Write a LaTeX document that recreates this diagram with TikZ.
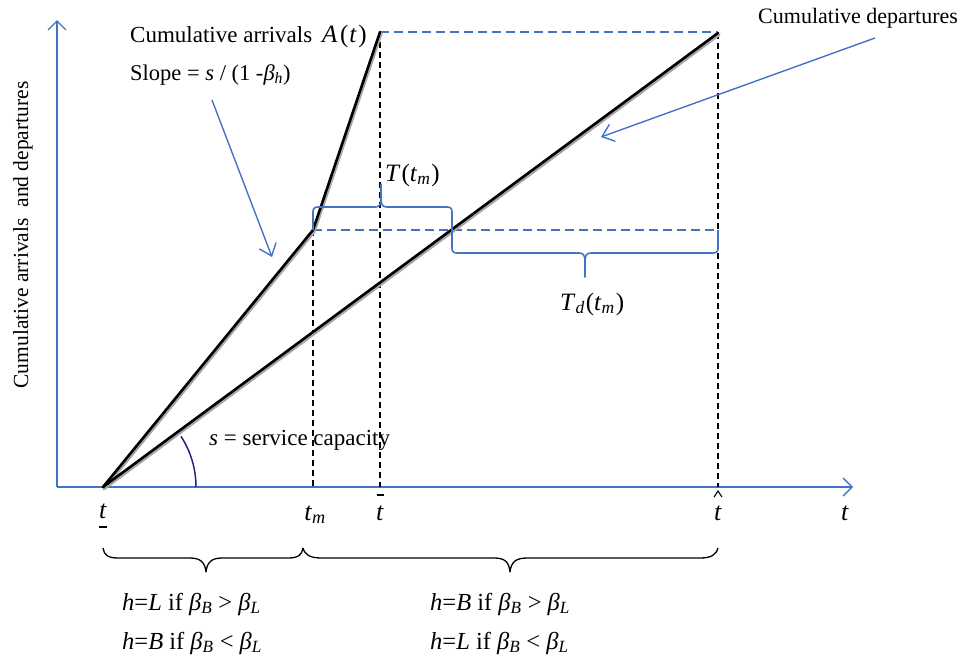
\documentclass[tikz,border=0pt]{standalone}
\usepackage{fontspec}
\setmainfont{Liberation Serif}
\usetikzlibrary{arrows.meta}
\definecolor{pblue}{RGB}{68,114,196}
\definecolor{arcblue}{RGB}{35,35,140}
\newcommand\sbs[1]{\textsubscript{\textit{#1}}}
\begin{document}
\begin{tikzpicture}[x=1pt,y=-1pt,
  lbl/.style={inner sep=0pt, font=\fontsize{22}{26}\selectfont},
  mlbl/.style={inner sep=0pt, font=\fontsize{25}{30}\selectfont},
  blbl/.style={inner sep=0pt, anchor=base west, font=\fontsize{24.5}{29}\selectfont},
  tlbl/.style={inner sep=0pt, anchor=base, font=\fontsize{26}{30}\selectfont},
  axisline/.style={pblue, line width=1.4pt, -{Straight Barb[length=9pt,width=18pt,line width=1.4pt]}},
  curve/.style={line width=2.6pt, line cap=round},
  shadowline/.style={line width=3.4pt, black!35, line cap=round},
  guide/.style={black, line width=1.4pt, dash pattern=on 6pt off 4pt},
  bguide/.style={pblue, line width=1.4pt, dash pattern=on 9pt off 5pt},
  bbrace/.style={pblue, line width=1.6pt, line join=round},
  kbrace/.style={black, line width=1.3pt, line join=round},
  accentbar/.style={black, line width=1.2pt},
  pointer/.style={pblue, line width=1.4pt, -{Straight Barb[length=11pt,width=18pt,line width=1.4pt]}}
]
\useasboundingbox (0,0) rectangle (974,659);

% key points
\coordinate (Yorig) at (57,487);
\coordinate (Ytip) at (57,20);
\coordinate (Xtip) at (853,487);
\coordinate (O) at (103,487);
\coordinate (K) at (313,230);
\coordinate (Atop) at (380,32);
\coordinate (Dtop) at (718,33);
\coordinate (Kb) at (313,487);
\coordinate (Ab) at (380,487);
\coordinate (Db) at (718,487);
\coordinate (C) at (452,230);
\coordinate (R) at (718,230);
\coordinate (Dq) at (718,32);

% axes
\draw[axisline] (Yorig) -- (Ytip);
\draw[axisline] (Yorig) -- (Xtip);

% guides
\draw[guide] (K) -- (Kb);
\draw[guide] (Atop) -- (Ab);
\draw[guide] (Dtop) -- (Db);
\draw[bguide] (Atop) -- (Dq);
\draw[bguide] (K) -- (R);

% curves
\draw[shadowline] ([shift={(1,1.5)}]O) -- ([shift={(1,1.5)}]Dtop);
\draw[shadowline] ([shift={(1,1.5)}]O) -- ([shift={(1,1.5)}]K) -- ([shift={(1,1.5)}]Atop);
\draw[curve] (O) -- (Dtop);
\draw[curve, line join=round] (O) -- (K) -- (Atop);

% service capacity arc
\draw[arcblue, line width=1.5pt] (196,487) arc[start angle=0, end angle=33, radius=93pt];

% blue braces
\draw[bbrace] (K) -- (313,212) .. controls (313,208.5) and (314.5,207) .. (318,207)
  -- (375,207) .. controls (379,207) and (381,205) .. (381,199) -- (381,184)
  -- (381,199) .. controls (381,205) and (383,207) .. (387,207)
  -- (447,207) .. controls (450.5,207) and (452,208.5) .. (452,212) -- (C);
\draw[bbrace] (C) -- (452,248) .. controls (452,251.5) and (453.5,253) .. (457,253)
  -- (579,253) .. controls (583,253) and (585,255) .. (585,261) -- (585,277)
  -- (585,261) .. controls (585,255) and (587,253) .. (591,253)
  -- (713,253) .. controls (716.5,253) and (718,251.5) .. (718,248) -- (R);

% black braces
\coordinate (B0) at (103,548);
\coordinate (B1) at (303,548);
\coordinate (B2) at (718,548);
\draw[kbrace] (B0) .. controls (104,555) and (108,558) .. (118,558) -- (190,558)
  .. controls (200,558) and (205,562) .. (206,572)
  .. controls (207,562) and (212,558) .. (222,558) -- (288,558)
  .. controls (298,558) and (302,555) .. (B1);
\draw[kbrace] (B1) .. controls (305,555) and (310,558) .. (322,558) -- (494,558)
  .. controls (505,558) and (509,562) .. (510,572)
  .. controls (511,562) and (516,558) .. (527,558) -- (700,558)
  .. controls (711,558) and (716,555) .. (B2);

% labels
\node[lbl, anchor=base west, font=\fontsize{23}{27}\selectfont] (arr) at (130,42) {Cumulative arrivals};
\node[mlbl, anchor=base west] (arrA) at (322,42) {\textit{A}\hspace{2.5pt}(\hspace{1pt}\textit{t}\hspace{1.5pt})};
\node[lbl, anchor=base west, font=\fontsize{22.5}{27}\selectfont] (slope) at (130,80) {Slope = \textit{s} / (1 -\textit{β}\sbs{h})};
\node[lbl, anchor=base west] (dep) at (758,23) {Cumulative departures};
\node[lbl, anchor=base west, font=\fontsize{23}{27}\selectfont] (cap) at (209,445) {\textit{s} = service capacity};
\node[mlbl, anchor=base west] (Tm) at (385,181) {\textit{T}\hspace{1pt}(\textit{t}\sbs{m}\hspace{1pt})};
\node[mlbl, anchor=base west] (Td) at (560,310) {\textit{T}\sbs{d}\hspace{1pt}(\textit{t}\sbs{m}\hspace{1pt})};
\node[lbl, rotate=90, font=\fontsize{21.5}{26}\selectfont] (ylab) at (23,235) {Cumulative arrivals \ and departures};

% tick labels
\node[tlbl] (tlow) at (103,518) {\textit{t}};
\draw[accentbar] ([xshift=-4pt]tlow.base |- 0,527) -- ([xshift=4pt]tlow.base |- 0,527);
\node[tlbl] (tm) at (315,520) {\textit{t}\sbs{m}};
\node[tlbl] (tbar) at (380,520) {\textit{t}};
\draw[accentbar] ([xshift=-3.5pt]tbar.base |- 0,495) -- ([xshift=3.5pt]tbar.base |- 0,495);
\node[tlbl] (that) at (718,520) {\textit{t}};
\draw[black, line width=1.1pt] ([xshift=-4pt]that.base |- 0,497) -- ([xshift=0pt]that.base |- 0,491) -- ([xshift=4pt]that.base |- 0,497);
\node[tlbl] (taxis) at (845,520) {\textit{t}};

% bottom texts
\node[blbl] (c1a) at (122,610) {\textit{h}=\textit{L} if \textit{β}\sbs{B} > \textit{β}\sbs{L}};
\node[blbl] (c1b) at (122,649) {\textit{h}=\textit{B} if \textit{β}\sbs{B} < \textit{β}\sbs{L}};
\node[blbl] (c2a) at (430,610) {\textit{h}=\textit{B} if \textit{β}\sbs{B} > \textit{β}\sbs{L}};
\node[blbl] (c2b) at (430,649) {\textit{h}=\textit{L} if \textit{β}\sbs{B} < \textit{β}\sbs{L}};

% pointers
\coordinate (P1s) at (212,100);
\coordinate (P1e) at (272,257);
\coordinate (P2s) at (875,38);
\coordinate (P2e) at (601,137);
\draw[pointer] (P1s) -- (P1e);
\draw[pointer] (P2s) -- (P2e);
\end{tikzpicture}
\end{document}
